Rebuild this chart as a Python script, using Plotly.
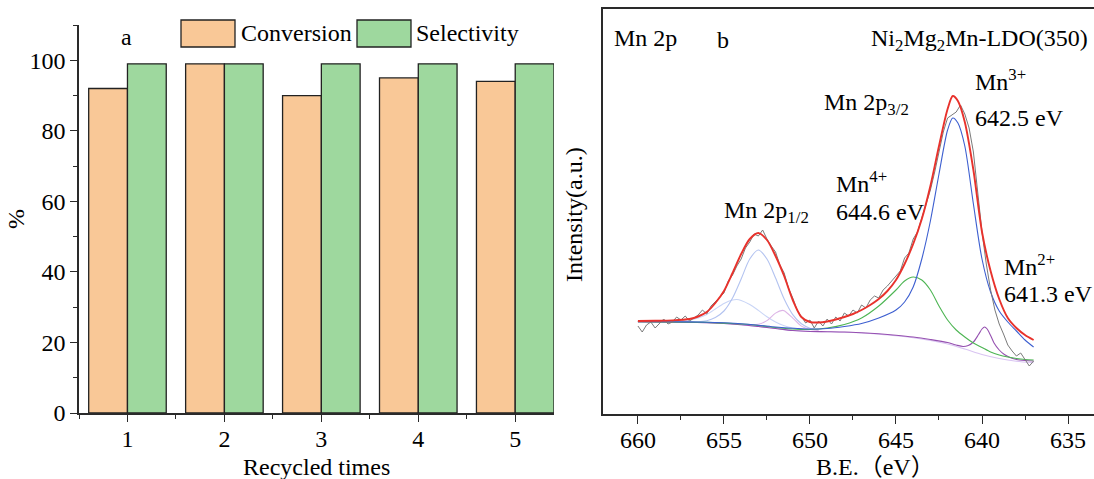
import plotly.graph_objects as go

W, H = 1094, 479
SERIF = "Liberation Serif"
SERIF_CJK = "Liberation Serif, Noto Sans CJK SC"

# ---------------- (a) catalyst recycling ----------------
cycles = [1, 2, 3, 4, 5]
conversion = [92, 99, 90, 95, 94]
selectivity = [99, 99, 99, 99, 99]

# ---------------- (b) Mn 2p XPS spectrum ----------------
raw_be = [660.00,
          659.75, 659.50, 659.25, 659.00, 658.75, 658.50, 658.25, 658.00,
          657.75, 657.50, 657.25, 657.00, 656.75, 656.50, 656.25, 656.00,
          655.75, 655.50, 655.25, 655.00, 654.75, 654.50, 654.25, 654.00,
          653.75, 653.50, 653.25, 653.00, 652.75, 652.50, 652.25, 652.00,
          651.75, 651.50, 651.25, 651.00, 650.75, 650.50, 650.25, 650.00,
          649.75, 649.50, 649.25, 649.00, 648.75, 648.50, 648.25, 648.00,
          647.75, 647.50, 647.25, 647.00, 646.75, 646.50, 646.25, 646.00,
          645.75, 645.50, 645.25, 645.00, 644.75, 644.50, 644.25, 644.00,
          643.75, 643.50, 643.25, 643.00, 642.75, 642.50, 642.25, 642.00,
          641.75, 641.50, 641.25, 641.00, 640.75, 640.50, 640.25, 640.00,
          639.75, 639.50, 639.25, 639.00, 638.75, 638.50, 638.25, 638.00,
          637.75, 637.50, 637.25, 637.00]
raw_counts = [88,
              82, 89, 92, 86, 91, 95, 90, 92,
              97, 94, 98, 93, 96, 99, 104, 100,
              108, 112, 117, 121, 133, 139, 148, 155,
              166, 172, 180, 178, 184, 175, 168, 162,
              149, 141, 126, 116, 104, 97, 91, 94,
              86, 93, 88, 95, 90, 97, 93, 101,
              98, 104, 101, 109, 106, 114, 118, 116,
              124, 128, 133, 138, 143, 156, 161, 175,
              182, 196, 210, 224, 242, 262, 282, 296,
              299, 302, 309, 300, 286, 262, 222, 182,
              150, 124, 104, 90, 80, 69, 63, 58,
              61, 54, 48, 53]

env_be = [660, 659, 658, 657, 656.5, 656, 655.5, 655, 654.5, 654, 653.5, 653,
          652.5, 652, 651.5, 651, 650.5, 650, 649.5, 649, 648.5, 648, 647.5,
          647, 646.5, 646, 645.5, 645, 644.5, 644, 643.5, 643, 642.5, 642,
          641.7, 641.4, 641, 640.5, 640, 639.5, 639, 638.5, 638, 637.5, 637]
env_fit = [93, 93.2, 93.6, 95, 97.5, 102, 111, 123, 141, 160, 175, 181,
           174, 158, 138, 114, 97, 92, 91.5, 92.5, 94.5, 97, 100,
           104, 109, 115, 123, 134, 150, 170, 195, 228, 268, 305,
           318, 313, 292, 244, 182, 143, 115, 96, 86, 79, 74]

mn3_be = [660, 658, 656, 655, 654, 653, 652, 651, 650, 649, 648, 647, 646,
          645, 644.5, 644, 643.5, 643, 642.5, 642, 641.7, 641.4, 641, 640.5,
          640, 639.5, 639, 638.5, 638, 637.5, 637]
mn3_fit = [92.5, 92.3, 91.8, 91.2, 90.3, 88.8, 87, 85.7, 85, 85.5, 87.5, 90.5, 96,
           104, 112, 127, 155, 193, 240, 284, 296, 291, 268, 210,
           155, 122, 103, 92, 83, 74, 67]

mn4_be = [660, 656, 654, 653, 652, 651, 650, 649, 648, 647, 646, 645, 644.5,
          644, 643.5, 643, 642.5, 642, 641.5, 641, 640.5, 640, 639.5, 639,
          638.5, 638, 637.5, 637]
mn4_fit = [92.3, 91.6, 90, 88.5, 86.5, 85, 84.5, 86, 89.5, 96, 108, 124, 133,
           137, 134, 124, 108, 94, 84, 77, 71, 66.5, 62, 59,
           57, 55.5, 54.5, 54]

mn2_be = [660, 656, 654, 653, 652, 651, 650, 649, 648, 647, 646, 645, 644, 643,
          642, 641.5, 641.1, 640.8, 640.5, 640.2, 640, 639.85, 639.7, 639.5,
          639.3, 639, 638.7, 638.3, 638, 637.5, 637]
mn2_fit = [92, 91.3, 89.3, 87.5, 85.5, 83.5, 82.5, 82.3, 82, 81.2, 80.2, 78.8, 77, 74.5,
           71.5, 69, 67.5, 68.5, 72, 79.5, 85, 87, 85, 78.5,
           71, 64, 59.5, 56, 54.5, 53.5, 53]

bkg_be = [660, 657, 656, 655, 654, 653, 652, 651, 650, 649, 648, 647, 646,
          645, 644, 643, 642, 641, 640, 639, 638, 637]
bkg_fit = [92, 91.8, 91.3, 90.5, 89.3, 87.5, 85.5, 83.5, 82.5, 82.2, 81.8, 81, 79.8,
           78.3, 76.3, 73.5, 70, 65, 59.5, 55.5, 52.8, 51.3]

p12_main_be = [658, 657, 656.5, 656, 655.5, 655, 654.5, 654, 653.5, 653, 652.5,
               652, 651.5, 651, 650.5, 650, 649.5]
p12_main_fit = [92.4, 92.1, 92.2, 93.3, 96.5, 103, 116, 135, 155, 164, 155,
                136, 115, 99.4, 90.2, 85.8, 84.1]

p12_broad_be = [658, 657, 656.5, 656, 655.5, 655, 654.5, 654.25, 654, 653.5,
                653, 652.5, 652, 651.5, 651, 650.5, 650]
p12_broad_fit = [92.6, 93.8, 96, 99.5, 105, 110.5, 114, 114.5, 113.6, 109.5,
                 103.6, 97.2, 91.9, 88.3, 86, 84.8, 84.1]

p12_sat_be = [653.5, 653, 652.5, 652, 651.6, 651.5, 651, 650.5, 650, 649.5]
p12_sat_fit = [89.3, 89.7, 93.4, 100.9, 103.6, 103.2, 95.9, 87.9, 84.5, 83.6]


def fx(p):
    return p / W


def fy(p):
    return 1 - p / H


fig = go.Figure()

# bar chart
fig.add_trace(go.Bar(x=cycles, y=conversion, name="Conversion",
                     marker=dict(color="#F9C897", line=dict(color="#222222", width=1.3)),
                     xaxis="x", yaxis="y"))
fig.add_trace(go.Bar(x=cycles, y=selectivity, name="Selectivity",
                     marker=dict(color="#9ED89E", line=dict(color="#222222", width=1.3)),
                     xaxis="x", yaxis="y"))


def curve(be, vals, color, width=1.1, shape="spline"):
    line = dict(color=color, width=width, shape=shape)
    if shape == "spline":
        line["smoothing"] = 0.8
    fig.add_trace(go.Scatter(x=be, y=vals, mode="lines", line=line,
                             xaxis="x2", yaxis="y2", hoverinfo="skip"))


curve(bkg_be, bkg_fit, "#D9C4F2")
curve(p12_broad_be, p12_broad_fit, "#C9D5F6")
curve(p12_main_be, p12_main_fit, "#B3C3F0")
curve(p12_sat_be, p12_sat_fit, "#DDB5E6")
curve(mn2_be, mn2_fit, "#9550B0")
curve(mn4_be, mn4_fit, "#4DB553")
curve(mn3_be, mn3_fit, "#3D5FD0")
curve(raw_be, raw_counts, "#7A7A7A", width=1.0, shape="linear")
curve(env_be, env_fit, "#E8322C", width=1.9)

axis_font = dict(family=SERIF, size=24, color="black")
line_col = "#2A2A2A"

fig.update_layout(
    template="none",
    width=W, height=H,
    margin=dict(l=0, r=0, t=0, b=0, pad=0),
    paper_bgcolor="white", plot_bgcolor="white",
    showlegend=False, barmode="group", bargap=0.2, bargroupgap=0,
    font=axis_font,
    xaxis=dict(domain=[fx(79), fx(554)], range=[0.5, 5.4], tickmode="array",
               tickvals=cycles, ticks="outside", ticklen=7, tickwidth=1.4,
               tickcolor=line_col, showline=True, linecolor=line_col, linewidth=1.5,
               showgrid=False, zeroline=False, tickfont=axis_font, automargin=False,
               ticklabelstandoff=-4,
               minor=dict(tickmode="array", tickvals=[0.5, 1.5, 2.5, 3.5, 4.5],
                          ticks="outside", ticklen=4, tickwidth=1.2, tickcolor=line_col,
                          showgrid=False),
               anchor="y"),
    yaxis=dict(domain=[fy(413), fy(25)], range=[0, 110], dtick=20, tick0=0,
               ticks="outside", ticklen=7, tickwidth=1.4, tickcolor=line_col,
               showline=True, linecolor=line_col, linewidth=1.5, showgrid=False,
               zeroline=False, tickfont=axis_font, automargin=False,
               minor=dict(dtick=10, ticks="outside", ticklen=4, tickwidth=1.2,
                          tickcolor=line_col, showgrid=False),
               anchor="x"),
    xaxis2=dict(domain=[fx(603), 1.0], range=[662.03, 633.49], dtick=5, tick0=635,
                ticks="outside", ticklen=8, tickwidth=1.4, tickcolor=line_col,
                showline=True, mirror=True, linecolor=line_col, linewidth=1.6,
                showgrid=False, zeroline=False, tickfont=axis_font, automargin=False,
                ticklabelstandoff=-5,
                minor=dict(dtick=2.5, ticks="outside", ticklen=4, tickwidth=1.2,
                           tickcolor=line_col, showgrid=False),
                anchor="y2"),
    yaxis2=dict(domain=[fy(414), fy(9)], range=[0, 405], showticklabels=False,
                ticks="", showline=True, linecolor=line_col, linewidth=1.6,
                showgrid=False, zeroline=False, automargin=False, anchor="x2"),
)

# legend swatches for panel (a)
fig.add_shape(type="rect", xref="paper", yref="paper",
              x0=fx(181), x1=fx(235), y0=fy(47), y1=fy(20),
              fillcolor="#F9C897", line=dict(color="#222222", width=1.3))
fig.add_shape(type="rect", xref="paper", yref="paper",
              x0=fx(357), x1=fx(411), y0=fy(47), y1=fy(20),
              fillcolor="#9ED89E", line=dict(color="#222222", width=1.3))


def label(text, x, y, xanchor="left", angle=0, family=SERIF):
    fig.add_annotation(text=text, xref="paper", yref="paper", x=fx(x), y=fy(y),
                       xanchor=xanchor, yanchor="middle", showarrow=False,
                       textangle=angle,
                       font=dict(family=family, size=24, color="black"))


label("Conversion", 239, 33)
label("Selectivity", 414, 33)
label("a", 126, 37, xanchor="center")
label("%", 16, 219, xanchor="center", angle=-90)
label("Recycled times", 316, 467, xanchor="center")

label("Mn 2p", 612, 38)
label("b", 723, 40, xanchor="center")
label("Ni<sub>2</sub>Mg<sub>2</sub>Mn-LDO(350)", 1090, 40, xanchor="right")
label("Mn 2p<sub>3/2</sub>", 822, 104)
label("Mn<sup>3+</sup>", 973, 80)
label("642.5 eV", 973, 118)
label("Mn<sup>4+</sup>", 834, 182)
label("644.6 eV", 834, 212)
label("Mn 2p<sub>1/2</sub>", 722, 212)
label("Mn<sup>2+</sup>", 1002, 265)
label("641.3 eV", 1002, 294)
label("Intensity(a.u.)", 574, 215, xanchor="center", angle=-90)
label("B.E.（eV）", 875, 467, xanchor="center", family=SERIF_CJK)

fig.write_html("out.html")
